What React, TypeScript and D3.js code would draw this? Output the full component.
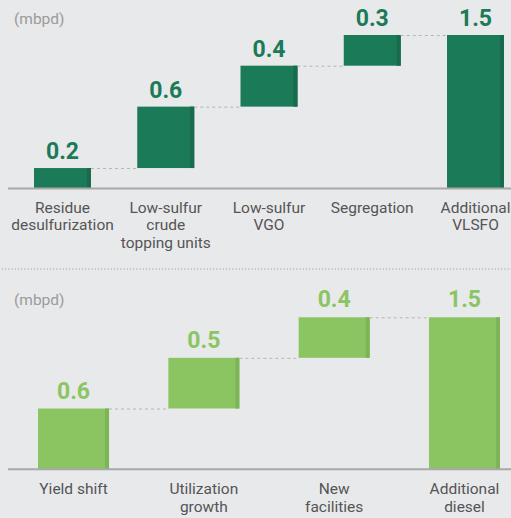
import React from "react";
import * as d3 from "d3";

const topCategories = [
  ["Residue", "desulfurization"],
  ["Low-sulfur", "crude", "topping units"],
  ["Low-sulfur", "VGO"],
  ["Segregation"],
  ["Additional", "VLSFO"],
];
const topValues = [0.2, 0.6, 0.4, 0.3, 1.5];
const topLabels = ["0.2", "0.6", "0.4", "0.3", "1.5"];

const bottomCategories = [
  ["Yield shift"],
  ["Utilization", "growth"],
  ["New", "facilities"],
  ["Additional", "diesel"],
];
const bottomValues = [0.6, 0.5, 0.4, 1.5];
const bottomLabels = ["0.6", "0.5", "0.4", "1.5"];

const unitLabel = "(mbpd)";

const W = 511;
const H = 518;
const FONT = "Roboto, 'Noto Sans', sans-serif";

type PanelProps = {
  cats: string[][];
  values: number[];
  labels: string[];
  baseY: number;
  topY: number;
  x0: number;
  x1: number;
  padInner: number;
  color: string;
  edge: string;
  unitY: number;
  labelGap: number;
  catOffset: number;
  lineH: number;
};

function Panel(p: PanelProps) {
  const n = p.values.length;
  const keys = p.cats.map((c) => c.join(" "));
  const x = d3.scaleBand<string>().domain(keys).range([p.x0, p.x1]).paddingInner(p.padInner).paddingOuter(0);
  const y = d3.scaleLinear().domain([0, 1.5]).range([p.baseY, p.topY]);
  const bw = x.bandwidth();
  let cum = 0;
  const bars = p.values.map((v, i) => {
    if (i === n - 1) {
      return { lo: 0, hi: v };
    }
    const lo = cum;
    cum += v;
    return { lo, hi: cum };
  });
  const edgeW = 4;
  return (
    <g>
      <text x={14} y={p.unitY} fontSize={15.5} fill="#9b9b9b" fontFamily={FONT}>
        {unitLabel}
      </text>
      {bars.map((b, i) => {
        const k = keys[i];
        const bx = x(k)!;
        const yt = y(b.hi);
        const yb = y(b.lo);
        return (
          <g key={k}>
            <rect x={bx} y={yt} width={bw} height={yb - yt} fill={p.color} />
            <rect x={bx + bw - edgeW} y={yt} width={edgeW} height={yb - yt} fill={p.edge} />
            <text
              x={bx + bw / 2}
              y={yt - p.labelGap}
              textAnchor="middle"
              fontSize={23}
              fontWeight={700}
              fill={p.color}
              fontFamily={FONT}
            >
              {p.labels[i]}
            </text>
            {i < n - 1 && (
              <line
                x1={bx + bw}
                x2={x(keys[i + 1])!}
                y1={yt + 0.5}
                y2={yt + 0.5}
                stroke="#b5b5b5"
                strokeWidth={1}
                strokeDasharray="3 3"
              />
            )}
            <text textAnchor="middle" fontSize={15.5} fill="#555" fontFamily={FONT}>
              {p.cats[i].map((line, j) => (
                <tspan key={j} x={bx + bw / 2} y={p.baseY + p.catOffset + j * p.lineH}>
                  {line}
                </tspan>
              ))}
            </text>
          </g>
        );
      })}
      <line x1={8} x2={W} y1={p.baseY} y2={p.baseY} stroke="#a8a8a8" strokeWidth={2} />
    </g>
  );
}

export default function App() {
  return (
    <div style={{ position: "absolute", left: 0, top: 0 }}>
      <svg width={W} height={H} style={{ display: "block" }}>
        <rect x={0} y={0} width={W} height={H} fill="#e8e9eb" />
        <Panel
          cats={topCategories}
          values={topValues}
          labels={topLabels}
          baseY={188.5}
          topY={35}
          x0={34}
          x1={504}
          padInner={0.448}
          color="#1b7a57"
          edge="#196b4c"
          unitY={24}
          labelGap={9}
          catOffset={24}
          lineH={17.5}
        />
        <line x1={2} x2={W} y1={269} y2={269} stroke="#a0a0a0" strokeWidth={1.2} strokeDasharray="1.2 2" />
        <Panel
          cats={bottomCategories}
          values={bottomValues}
          labels={bottomLabels}
          baseY={469.3}
          topY={317.3}
          x0={38}
          x1={500}
          padInner={0.455}
          color="#8bc562"
          edge="#7db457"
          unitY={305}
          labelGap={10}
          catOffset={25}
          lineH={18}
        />
      </svg>
    </div>
  );
}
